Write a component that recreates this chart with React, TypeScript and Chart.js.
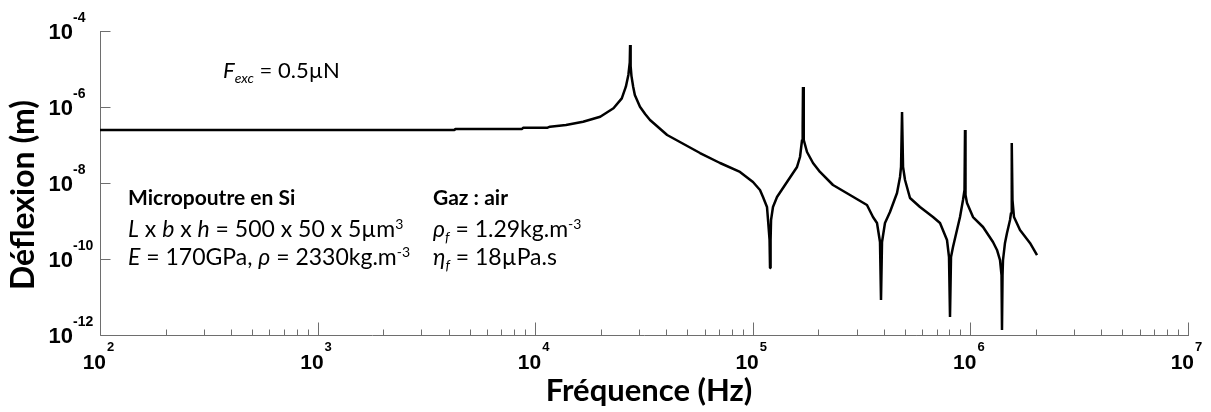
import { useEffect, useRef } from 'react';
import { Chart, registerables } from 'chart.js';

Chart.register(...registerables);

// Frequency (Hz) and deflection (m)
const FREQ_HZ = [
  1e2, 4.25e3, 4.3e3, 8.7e3, 8.8e3, 1.14e4, 1.17e4, 1.385e4, 1.66e4, 1.99e4,
  2.29e4, 2.5e4, 2.61e4, 2.68e4, 2.72e4, 2.73e4, 2.745e4, 2.77e4, 2.82e4, 2.87e4,
  3.03e4, 3.2e4, 3.37e4, 4.04e4, 5.72e4, 7.07e4, 8.73e4, 1.002e5, 1.079e5, 1.114e5,
  1.162e5, 1.175e5, 1.194e5, 1.2e5, 1.207e5, 1.213e5, 1.238e5, 1.292e5, 1.436e5, 1.597e5,
  1.648e5, 1.684e5, 1.695e5, 1.701e5, 1.71e5, 1.719e5, 1.775e5, 1.891e5, 2.036e5, 2.336e5,
  2.797e5, 3.347e5, 3.567e5, 3.722e5, 3.842e5, 3.883e5, 3.925e5, 4.05e5, 4.27e5, 4.6e5,
  4.749e5, 4.8e5, 4.851e5, 4.903e5, 5.007e5, 5.278e5, 5.866e5, 6.732e5, 7.25e5, 7.807e5,
  7.974e5, 8.059e5, 8.145e5, 8.318e5, 8.959e5, 9.247e5, 9.396e5, 9.446e5, 9.496e5, 9.647e5,
  1.028e6, 1.143e6, 1.27e6, 1.325e6, 1.368e6, 1.39e6, 1.397e6, 1.405e6, 1.412e6, 1.442e6,
  1.473e6, 1.521e6, 1.537e6, 1.545e6, 1.553e6, 1.561e6, 1.586e6, 1.69e6, 1.878e6, 2.024e6,
];
const DEFLECTION_M = [
  2.48e-7, 2.48e-7, 2.64e-7, 2.64e-7, 2.85e-7, 2.85e-7, 3.03e-7, 3.36e-7, 4.1e-7, 5.56e-7,
  9.25e-7, 1.69e-6, 3.42e-6, 6.95e-6, 1.5e-5, 4.28e-5, 1.2e-5, 6.5e-6, 3.42e-6, 2.07e-6,
  1.02e-6, 6.55e-7, 4.55e-7, 1.83e-7, 6.15e-8, 3.36e-8, 1.95e-8, 1.06e-8, 6.54e-9, 4.28e-9,
  2.34e-9, 1.06e-9, 3.16e-10, 5.8e-11, 3.16e-10, 1.06e-9, 2.34e-9, 4.28e-9, 1.06e-8, 2.64e-8,
  4.83e-8, 1.354e-7, 3e-7, 3.36e-6, 3e-7, 1.354e-7, 6.54e-8, 3.36e-8, 1.95e-8, 8.86e-9,
  4.83e-9, 2.64e-9, 1.27e-9, 8.86e-10, 2.8e-10, 8.34e-12, 2.8e-10, 8.86e-10, 1.73e-9, 5.46e-9,
  1.44e-8, 2.64e-8, 7.38e-7, 2.64e-8, 1.2e-8, 4.03e-9, 2.34e-9, 1.27e-9, 8.86e-10, 3.16e-10,
  1.13e-10, 2.98e-12, 1.13e-10, 2.07e-10, 1.27e-9, 3.57e-9, 6.54e-9, 2.48e-7, 4.83e-9, 2.98e-9,
  1.27e-9, 6.95e-10, 2.8e-10, 1.73e-10, 9.4e-11, 3.79e-11, 1.35e-12, 3.79e-11, 9.4e-11, 2.64e-10,
  4.83e-10, 1.06e-9, 1.62e-9, 4.83e-9, 1.129e-7, 3.57e-9, 1.27e-9, 5.8e-10, 2.64e-10, 1.27e-10,
];

const X_MIN = 1e2;
const X_MAX = 1e7;
const Y_MIN = 1e-12;
const Y_MAX = 1e-4;
const X_TICK_EXPONENTS = [2, 3, 4, 5, 6, 7];
const X_MINOR_MULTIPLIERS = [2, 3, 4, 5, 6, 7, 8, 9];
const Y_TICK_EXPONENTS = [-4, -6, -8, -10, -12];

const X_TITLE = 'Fréquence (Hz)';
const Y_TITLE = 'Déflexion (m)';

type Run = { t: string; it?: boolean; b?: boolean; sub?: boolean; sup?: boolean };

const F_EXC_TEXT: Run[] = [{ t: 'F', it: true }, { t: 'exc', it: true, sub: true }, { t: ' = 0.5µN' }];
const BEAM_TEXT: Run[][] = [
  [{ t: 'Micropoutre en Si', b: true }],
  [
    { t: 'L', it: true }, { t: ' x ' }, { t: 'b', it: true }, { t: ' x ' }, { t: 'h', it: true },
    { t: ' = 500 x 50 x 5µm' }, { t: '3', sup: true },
  ],
  [{ t: 'E', it: true }, { t: ' = 170GPa, ' }, { t: 'ρ', it: true }, { t: ' = 2330kg.m' }, { t: '-3', sup: true }],
];
const GAS_TEXT: Run[][] = [
  [{ t: 'Gaz : air', b: true }],
  [{ t: 'ρ', it: true }, { t: 'f', it: true, sub: true }, { t: ' = 1.29kg.m' }, { t: '-3', sup: true }],
  [{ t: 'η', it: true }, { t: 'f', it: true, sub: true }, { t: ' = 18µPa.s' }],
];

const TEXT_FONT = '"Lato", "Noto Sans", sans-serif';
const TICK_FONT = '"Liberation Sans", Arial, sans-serif';
const AXIS_COLOR = '#6e6e6e';

function drawRuns(ctx: CanvasRenderingContext2D, runs: Run[], x: number, y: number, size: number, boldSize: number) {
  let cx = x;
  ctx.textAlign = 'left';
  ctx.textBaseline = 'alphabetic';
  for (const r of runs) {
    const small = r.sub || r.sup;
    const base = r.b ? boldSize : size;
    const s = small ? Math.round(size * 0.62) : base;
    ctx.font = `${r.it ? 'italic ' : ''}${r.b ? 'bold ' : ''}${s}px ${TEXT_FONT}`;
    const dy = r.sub ? size * 0.22 : r.sup ? -size * 0.36 : 0;
    ctx.fillText(r.t, cx, y + dy);
    cx += ctx.measureText(r.t).width;
  }
}

const axesPlugin = {
  id: 'customAxes',
  beforeDatasetsDraw(chart: any) {
    const { ctx, chartArea: a } = chart;
    const xs = chart.scales.x;
    const ys = chart.scales.y;
    const L = Math.round(a.left) + 0.5;
    const B = Math.round(a.bottom) + 0.5;
    ctx.save();
    ctx.strokeStyle = AXIS_COLOR;
    ctx.lineWidth = 1;
    ctx.beginPath();
    ctx.moveTo(L, Math.round(a.top));
    ctx.lineTo(L, B);
    ctx.lineTo(Math.round(a.right) + 1, B);
    X_TICK_EXPONENTS.forEach((e, i) => {
      const px = Math.round(xs.getPixelForValue(10 ** e)) + 0.5;
      ctx.moveTo(px, B);
      ctx.lineTo(px, B - 13);
      if (i < X_TICK_EXPONENTS.length - 1) {
        X_MINOR_MULTIPLIERS.forEach((m) => {
          const q = Math.round(xs.getPixelForValue(m * 10 ** e)) + 0.5;
          ctx.moveTo(q, B);
          ctx.lineTo(q, B - 6);
        });
      }
    });
    Y_TICK_EXPONENTS.forEach((e) => {
      const py = Math.round(ys.getPixelForValue(10 ** e)) + 0.5;
      ctx.moveTo(L, py);
      ctx.lineTo(L + 10, py);
    });
    ctx.stroke();
    ctx.restore();
  },
  afterDraw(chart: any) {
    const { ctx, chartArea: a } = chart;
    const xs = chart.scales.x;
    const ys = chart.scales.y;
    ctx.save();
    ctx.fillStyle = '#000';
    ctx.textBaseline = 'alphabetic';
    // x tick labels
    X_TICK_EXPONENTS.forEach((e) => {
      const px = xs.getPixelForValue(10 ** e);
      ctx.font = `bold 21px ${TICK_FONT}`;
      ctx.textAlign = 'right';
      ctx.fillText('10', px + 6, a.bottom + 34);
      ctx.font = `bold 13px ${TICK_FONT}`;
      ctx.textAlign = 'left';
      ctx.fillText(String(e), px + 7, a.bottom + 16);
    });
    // y tick labels
    Y_TICK_EXPONENTS.forEach((e) => {
      const py = ys.getPixelForValue(10 ** e);
      ctx.font = `bold 22px ${TICK_FONT}`;
      ctx.textAlign = 'right';
      ctx.fillText('10', a.left - 27, py + 8);
      ctx.font = `bold 14px ${TICK_FONT}`;
      ctx.textAlign = 'left';
      ctx.fillText(String(e), a.left - 27, py - 9);
    });
    // axis titles
    ctx.font = `bold 31px ${TEXT_FONT}`;
    ctx.textAlign = 'center';
    ctx.fillText(X_TITLE, 649, 401);
    ctx.save();
    ctx.translate(34, 195);
    ctx.rotate(-Math.PI / 2);
    ctx.font = `bold 32px ${TEXT_FONT}`;
    ctx.fillText(Y_TITLE, 0, 0);
    ctx.restore();
    // annotations
    drawRuns(ctx, F_EXC_TEXT, 223, 78, 22, 22);
    const rows = [205, 237, 265];
    BEAM_TEXT.forEach((r, i) => drawRuns(ctx, r, 128, rows[i], 23, 21));
    GAS_TEXT.forEach((r, i) => drawRuns(ctx, r, 433, rows[i], 23, 21));
    ctx.restore();
  },
};

export default function App() {
  const ref = useRef<HTMLCanvasElement | null>(null);
  useEffect(() => {
    document.body.style.margin = '0';
    if (!ref.current) return;
    const chart = new Chart(ref.current, {
      type: 'line',
      data: {
        datasets: [
          {
            data: FREQ_HZ.map((f, i) => ({ x: f, y: DEFLECTION_M[i] })),
            borderColor: '#000',
            borderWidth: 2.5,
            pointRadius: 0,
            tension: 0,
            borderJoinStyle: 'bevel',
            fill: false,
          },
        ],
      },
      options: {
        animation: false,
        responsive: false,
        devicePixelRatio: 1,
        layout: { padding: { top: 31, right: 23, left: 0, bottom: 0 } },
        plugins: { legend: { display: false }, tooltip: { enabled: false }, title: { display: false } },
        scales: {
          x: {
            type: 'logarithmic',
            min: X_MIN,
            max: X_MAX,
            grid: { display: false },
            border: { display: false },
            ticks: { display: false },
            afterFit: (s: any) => { s.height = 77; },
          },
          y: {
            type: 'logarithmic',
            min: Y_MIN,
            max: Y_MAX,
            grid: { display: false },
            border: { display: false },
            ticks: { display: false },
            afterFit: (s: any) => { s.width = 100; },
          },
        },
      },
      plugins: [axesPlugin],
    });
    return () => chart.destroy();
  }, []);
  return <canvas ref={ref} width={1211} height={412} style={{ display: 'block' }} />;
}
